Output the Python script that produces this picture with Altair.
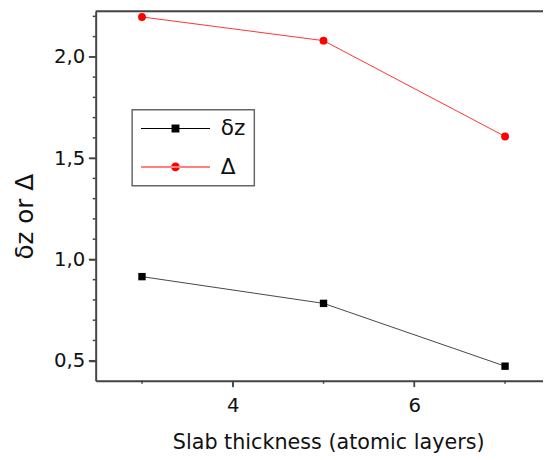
import altair as alt
import pandas as pd

# ---- data ----
thickness = [3, 5, 7]
dz_values = [0.915, 0.783, 0.473]
delta_values = [2.197, 2.080, 1.607]
series_names = ["δz", "Δ"]
series_colors = ["#000000", "#ff0000"]
line_colors = ["#444444", "#ff3333"]

x_major = [4, 6]
x_minor = [3, 5, 7]
y_major = [0.5, 1.0, 1.5, 2.0]
y_minor = [0.6, 0.7, 0.8, 0.9, 1.1, 1.2, 1.3, 1.4,
           1.6, 1.7, 1.8, 1.9, 2.1, 2.2]
x_domain = [2.49, 7.418]
y_domain = [0.401, 2.225]

rows = []
for x, v in zip(thickness, dz_values):
    rows.append({"x": x, "v": v, "s": series_names[0]})
for x, v in zip(thickness, delta_values):
    rows.append({"x": x, "v": v, "s": series_names[1]})
df = pd.DataFrame(rows)

W, H = 454, 375
FONT = "DejaVu Sans"
AX = "#444444"

xs = alt.Scale(domain=x_domain, nice=False, zero=False)
ys = alt.Scale(domain=y_domain, nice=False, zero=False)

x_axis = alt.Axis(
    orient="bottom", values=x_major, title="Slab thickness (atomic layers)",
    format="d", ticks=True, tickSize=6, tickOpacity=1,
    labelPadding=9, labelFontSize=20, labelFont=FONT, labelColor="#111",
    labelOverlap=False, labelFlush=False, grid=False,
    domainColor=AX, domainWidth=2, tickColor=AX, tickWidth=1.5,
    titleFont=FONT, titleFontSize=21, titleFontWeight="normal", titleColor="#111",
    titleBaseline="alphabetic", titleY=69, titleX=236, titleAlign="center",
)
y_axis = alt.Axis(
    orient="left", values=y_major, title="δz or Δ",
    labelExpr="replace(format(datum.value, '.1f'), '.', ',')",
    ticks=True, tickSize=7, tickOpacity=1,
    labelPadding=4, labelFontSize=20, labelFont=FONT, labelColor="#111",
    labelOverlap=False, grid=False,
    domainColor=AX, domainWidth=2, tickColor=AX, tickWidth=1.5,
    titleFont=FONT, titleFontSize=25, titleFontWeight="normal", titleColor="#111",
    titleAngle=270, titleBaseline="alphabetic", titleAlign="center",
    titleX=-64, titleY=208,
)

Xn = alt.X("x:Q", scale=xs, axis=None)
Yn = alt.Y("v:Q", scale=ys, axis=None)

base = alt.Chart(df)

def series_layers(i, marker):
    sub = base.transform_filter(alt.datum.s == series_names[i])
    line = sub.mark_line(color=line_colors[i], strokeWidth=1).encode(x=Xn, y=Yn)
    if marker == "square":
        pts = sub.mark_square(color=series_colors[i], size=56, opacity=1)
    else:
        pts = sub.mark_circle(color=series_colors[i], size=64, opacity=1)
    pts = pts.encode(x=Xn, y=Yn)
    return line, pts

dz_line, dz_pts = series_layers(0, "square")
de_line, de_pts = series_layers(1, "circle")

major_axes = base.mark_point(size=0, opacity=0).encode(
    x=alt.X("x:Q", scale=xs, axis=x_axis),
    y=alt.Y("v:Q", scale=ys, axis=y_axis),
)

# explicit tick marks (drawn through the same scales)
def xticks(vals, length):
    return alt.Chart(pd.DataFrame({"x": vals})).mark_rule(
        color=AX, strokeWidth=1.5, clip=False, opacity=1
    ).encode(x=Xn, y=alt.value(H), y2=alt.value(H + length))

def yticks(vals, length):
    return alt.Chart(pd.DataFrame({"v": vals})).mark_rule(
        color=AX, strokeWidth=1.5, clip=False, opacity=1
    ).encode(y=Yn, x=alt.value(0), x2=alt.value(-length))

tick_layers = [xticks(x_major, 6), xticks(x_minor, 3), yticks(y_major, 7), yticks(y_minor, 3)]

# legend symbols: thin filled bar (the line) + marker, all filled
sq_path = "M-4.375,-0.07H4.375V0.07H-4.375Z M-0.5,-0.5H0.5V0.5H-0.5Z"
ci_path = "M-4.375,-0.07H4.375V0.07H-4.375Z M-0.55,0A0.55,0.55 0 1,0 0.55,0A0.55,0.55 0 1,0 -0.55,0Z"

legend = alt.Legend(
    title=None, orient="none", legendX=37, legendY=100,
    strokeColor="#666", padding=8,
    symbolSize=256, symbolOffset=25, labelOffset=35,
    labelFont=FONT, labelFontSize=22, labelColor="#111",
    rowPadding=17, symbolStrokeWidth=0, symbolOpacity=1,
)
legend_layer = base.mark_point(size=0, filled=True, opacity=1).encode(
    x=Xn, y=Yn,
    color=alt.Color("s:N", scale=alt.Scale(domain=series_names, range=series_colors), legend=legend),
    shape=alt.Shape("s:N", scale=alt.Scale(domain=series_names, range=[sq_path, ci_path]), legend=legend),
)

top_rule = alt.Chart(pd.DataFrame({"k": [0]})).mark_rule(color=AX, strokeWidth=2, clip=False).encode(
    x=alt.value(0), x2=alt.value(W), y=alt.value(0)
)

chart = alt.layer(
    major_axes, *tick_layers, dz_line, de_line, dz_pts, de_pts, legend_layer, top_rule
).resolve_axis(x="independent", y="independent").properties(
    width=W, height=H,
    autosize=alt.AutoSizeParams(type="none"),
    padding={"left": 89, "top": 0, "right": 0, "bottom": 70},
).configure_view(strokeWidth=0, clip=False).configure(background="white").configure_legend(strokeWidth=1.5)

chart.save("out.html", embed_options={"renderer": "svg", "actions": False})
